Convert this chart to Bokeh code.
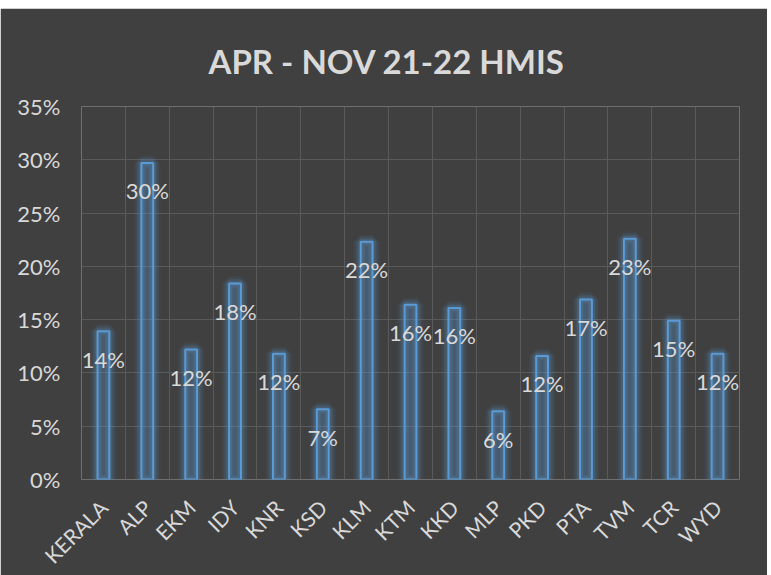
import math
from bokeh.plotting import figure
from bokeh.layouts import column
from bokeh.models import (ColumnDataSource, FixedTicker, NumeralTickFormatter,
                          LabelSet, Range1d, Spacer)
from bokeh.core.properties import value
from bokeh.embed import file_html
from bokeh.resources import INLINE

# ---- data ----
districts = ["KERALA", "ALP", "EKM", "IDY", "KNR", "KSD", "KLM", "KTM",
             "KKD", "MLP", "PKD", "PTA", "TVM", "TCR", "WYD"]
shares = [0.139, 0.297, 0.122, 0.184, 0.118, 0.066, 0.223, 0.164,
          0.161, 0.064, 0.116, 0.169, 0.226, 0.149, 0.118]
y_ticks = [0.0, 0.05, 0.10, 0.15, 0.20, 0.25, 0.30, 0.35]
title_text = "APR - NOV 21-22 HMIS"

BG = "#404040"
TXT = "#D9D9D9"
BLUE = "#5B9BD5"
FONT = "Lato"

xpos = [i + 0.5 for i in range(len(districts))]
labels = [f"{round(v * 100):d}%" for v in shares]
src = ColumnDataSource(dict(x=xpos, top=shares, lab=labels))

p = figure(frame_width=658, frame_height=373, output_backend="svg",
           toolbar_location=None,
           x_range=Range1d(0, len(districts)), y_range=Range1d(0, 0.35),
           min_border_left=81, min_border_right=28, min_border_top=98,
           min_border_bottom=96, title=title_text)
p.background_fill_color = BG
p.border_fill_color = BG
p.outline_line_color = None

p.title.align = "left"
p.title.offset = 127
p.title.text_color = TXT
p.title.text_font = FONT
p.title.text_font_style = "bold"
p.title.text_font_size = "33px"
p.title.standoff = 51

# grid
p.xgrid.ticker = FixedTicker(ticks=list(range(len(districts) + 1)))
p.xgrid.grid_line_color = "#5A5A5A"
p.ygrid.ticker = FixedTicker(ticks=y_ticks)
p.ygrid.grid_line_color = "#5A5A5A"

# axes
p.xaxis.ticker = FixedTicker(ticks=xpos)
p.xaxis.major_label_overrides = {x: d for x, d in zip(xpos, districts)}
p.xaxis.major_label_orientation = math.pi / 4
p.yaxis.ticker = FixedTicker(ticks=y_ticks)
p.yaxis.formatter = NumeralTickFormatter(format="0%")
for ax in (p.xaxis, p.yaxis):
    ax.axis_line_color = None
    ax.major_tick_line_color = None
    ax.minor_tick_line_color = None
    ax.major_label_text_color = TXT
    ax.major_label_text_font = FONT
    ax.major_label_text_font_size = "21px"
p.yaxis.major_label_text_font_size = "22px"
p.yaxis.major_label_standoff = 15
p.xaxis.major_label_standoff = 18

# glow layers
W = 0.27
for lw, a in [(15, 0.05), (12, 0.07), (9, 0.10), (6, 0.16)]:
    p.vbar(x="x", top="top", bottom=0, width=W, source=src,
           fill_alpha=0, line_color=BLUE, line_alpha=a, line_width=lw)
# bars
p.vbar(x="x", top="top", bottom=0, width=W, source=src,
       fill_color=BLUE, fill_alpha=0.22, line_color=BLUE, line_width=2)

# data labels (inside end)
p.add_layout(LabelSet(x="x", y="top", text="lab", source=src,
                      y_offset=-28, text_align="center", text_baseline="middle",
                      text_color=TXT, text_font=value(FONT),
                      text_font_size=value("22px")))

layout = column(Spacer(height=8, width=767), p, spacing=0)
open("out.html", "w").write(file_html(layout, INLINE))
